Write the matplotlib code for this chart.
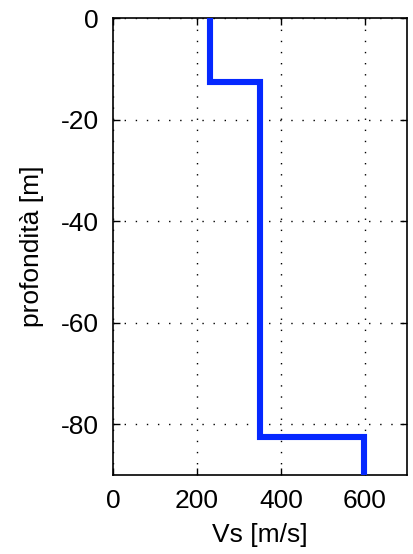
import numpy as np
import matplotlib
matplotlib.use("Agg")
import matplotlib.pyplot as plt

# shear-wave velocity profile (layered model)
vs_layers = [232, 350, 597]          # m/s
layer_tops = [0.0, 12.6, 82.6]       # m
max_depth = 90.0

x_ticks = [0, 200, 400, 600]
y_ticks = [0, -20, -40, -60, -80]

plt.rcParams["font.family"] = ["Liberation Sans", "DejaVu Sans"]
plt.rcParams["font.size"] = 19
plt.rcParams["axes.unicode_minus"] = False

# build the staircase from the layer table
xs, ys = [], []
bottoms = layer_tops[1:] + [max_depth]
for v, top, bot in zip(vs_layers, layer_tops, bottoms):
    xs += [v, v]
    ys += [-top, -bot]

fig = plt.figure(figsize=(4.13, 5.54), dpi=100)
ax = fig.add_axes([113 / 413, 79 / 554, 294 / 413, 457 / 554])

ax.plot(xs, ys, color="#0528ff", linewidth=4.4, solid_joinstyle="miter", zorder=3)

ax.set_xlim(0, 700)
ax.set_ylim(-max_depth, 0)
ax.set_xticks(x_ticks)
ax.set_yticks(y_ticks)
ax.grid(True, color="black", linestyle=(0, (1, 7)), linewidth=1.0)
ax.tick_params(direction="in", length=5, width=1, top=True, right=True, pad=10)
for sp in ax.spines.values():
    sp.set_linewidth(1.2)

ax.set_xlabel("Vs [m/s]", labelpad=7)
ax.set_ylabel("profondità [m]", labelpad=12)

fig.savefig("out.png", dpi=100)
